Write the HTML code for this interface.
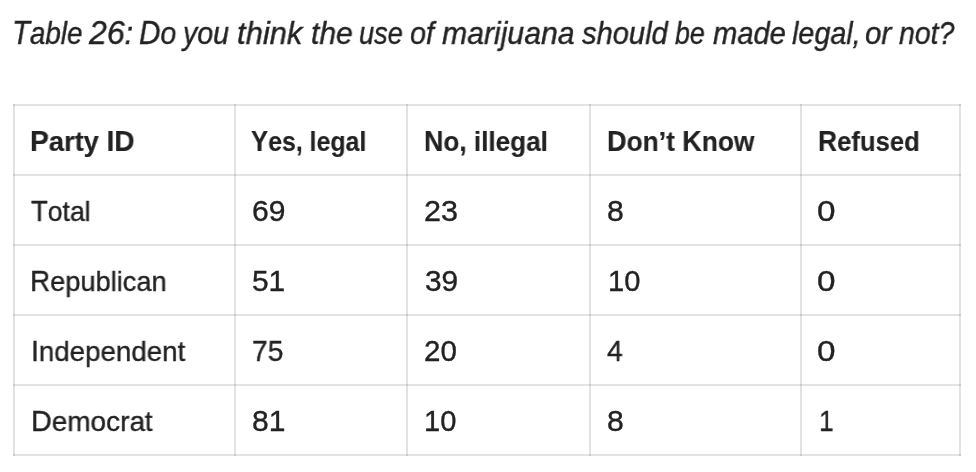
<!DOCTYPE html>
<html>
<head>
<meta charset="utf-8">
<style>
html,body{margin:0;padding:0;background:#fff;width:976px;height:472px;overflow:hidden;}
body{font-family:"Liberation Sans",sans-serif;color:#222;position:relative;}
.t{position:absolute;white-space:nowrap;line-height:1;transform-origin:0 0;will-change:transform;}
.title{font-style:italic;font-size:32px;-webkit-text-stroke:0.4px #222;}
.h{font-weight:bold;font-size:28.3px;-webkit-text-stroke:0.15px #222;}
.d{font-size:28.3px;-webkit-text-stroke:0.35px #222;}
.u{line-height:0;}
.title .u{font-size:33.6px;}
.h .u,.d .u{font-size:29.1px;}
.hl{position:absolute;height:2px;background:#e3e3e3;left:13px;width:948px;}
.vl{position:absolute;width:2px;background:#e3e3e3;top:104px;height:352px;}
.x{position:absolute;width:2px;height:2px;background:#cacaca;}
</style>
</head>
<body>
<div class="hl" style="top:104px"></div>
<div class="hl" style="top:174px"></div>
<div class="hl" style="top:244px"></div>
<div class="hl" style="top:314px"></div>
<div class="hl" style="top:384px"></div>
<div class="hl" style="top:454px"></div>
<div class="vl" style="left:13px"></div>
<div class="vl" style="left:234px"></div>
<div class="vl" style="left:406px"></div>
<div class="vl" style="left:589px"></div>
<div class="vl" style="left:800px"></div>
<div class="vl" style="left:959px"></div>
<div class="x" style="left:13px;top:104px"></div>
<div class="x" style="left:234px;top:104px"></div>
<div class="x" style="left:406px;top:104px"></div>
<div class="x" style="left:589px;top:104px"></div>
<div class="x" style="left:800px;top:104px"></div>
<div class="x" style="left:959px;top:104px"></div>
<div class="x" style="left:13px;top:174px"></div>
<div class="x" style="left:234px;top:174px"></div>
<div class="x" style="left:406px;top:174px"></div>
<div class="x" style="left:589px;top:174px"></div>
<div class="x" style="left:800px;top:174px"></div>
<div class="x" style="left:959px;top:174px"></div>
<div class="x" style="left:13px;top:244px"></div>
<div class="x" style="left:234px;top:244px"></div>
<div class="x" style="left:406px;top:244px"></div>
<div class="x" style="left:589px;top:244px"></div>
<div class="x" style="left:800px;top:244px"></div>
<div class="x" style="left:959px;top:244px"></div>
<div class="x" style="left:13px;top:314px"></div>
<div class="x" style="left:234px;top:314px"></div>
<div class="x" style="left:406px;top:314px"></div>
<div class="x" style="left:589px;top:314px"></div>
<div class="x" style="left:800px;top:314px"></div>
<div class="x" style="left:959px;top:314px"></div>
<div class="x" style="left:13px;top:384px"></div>
<div class="x" style="left:234px;top:384px"></div>
<div class="x" style="left:406px;top:384px"></div>
<div class="x" style="left:589px;top:384px"></div>
<div class="x" style="left:800px;top:384px"></div>
<div class="x" style="left:959px;top:384px"></div>
<div class="x" style="left:13px;top:454px"></div>
<div class="x" style="left:234px;top:454px"></div>
<div class="x" style="left:406px;top:454px"></div>
<div class="x" style="left:589px;top:454px"></div>
<div class="x" style="left:800px;top:454px"></div>
<div class="x" style="left:959px;top:454px"></div>
<div class="t title" style="left:11.69px;top:17px;transform:scaleX(0.8701)"><span class="u">T</span>able</div>
<div class="t title" style="left:88.70px;top:17px;transform:scaleX(0.9556)"><span class="u">26</span>:</div>
<div class="t title" style="left:138.81px;top:17px;transform:scaleX(0.8850)"><span class="u">D</span>o</div>
<div class="t title" style="left:183.31px;top:17px;transform:scaleX(0.8920)">you</div>
<div class="t title" style="left:237.03px;top:17px;transform:scaleX(0.9676)">think</div>
<div class="t title" style="left:311.06px;top:17px;transform:scaleX(0.9372)">the</div>
<div class="t title" style="left:359.35px;top:17px;transform:scaleX(0.8500)">use</div>
<div class="t title" style="left:409.60px;top:17px;transform:scaleX(0.9000)">of</div>
<div class="t title" style="left:442.40px;top:17px;transform:scaleX(0.9429)">marijuana</div>
<div class="t title" style="left:581.80px;top:17px;transform:scaleX(0.9095)">should</div>
<div class="t title" style="left:675.20px;top:17px;transform:scaleX(0.8371)">be</div>
<div class="t title" style="left:712.90px;top:17px;transform:scaleX(0.9101)">made</div>
<div class="t title" style="left:792.00px;top:17px;transform:scaleX(0.8973)">legal,</div>
<div class="t title" style="left:864.68px;top:17px;transform:scaleX(0.9207)">or</div>
<div class="t title" style="left:899.00px;top:17px;transform:scaleX(0.8889)">not?</div>
<div class="t h" style="left:30.47px;top:127px;transform:scaleX(0.9657)"><span class="u">P</span>arty <span class="u">ID</span></div>
<div class="t h" style="left:251.42px;top:127px;transform:scaleX(0.8797)"><span class="u">Y</span>es, legal</div>
<div class="t h" style="left:424.25px;top:127px;transform:scaleX(0.9231)"><span class="u">N</span>o, illegal</div>
<div class="t h" style="left:607.24px;top:127px;transform:scaleX(0.9314)"><span class="u">D</span>on’t <span class="u">K</span>now</div>
<div class="t h" style="left:818.29px;top:127px;transform:scaleX(0.9064)"><span class="u">R</span>efused</div>
<div class="t d" style="left:30.90px;top:197px;transform:scaleX(0.9403)"><span class="u">T</span>otal</div>
<div class="t d" style="left:251.77px;top:197px;transform:scaleX(1.0333)"><span class="u">69</span></div>
<div class="t d" style="left:423.85px;top:197px;transform:scaleX(1.0500)"><span class="u">23</span></div>
<div class="t d" style="left:606.56px;top:197px;transform:scaleX(1.0357)"><span class="u">8</span></div>
<div class="t d" style="left:817.36px;top:197px;transform:scaleX(1.1429)"><span class="u">0</span></div>
<div class="t d" style="left:30.38px;top:267px;transform:scaleX(0.9604)"><span class="u">R</span>epublican</div>
<div class="t d" style="left:251.97px;top:267px;transform:scaleX(1.0267)"><span class="u">51</span></div>
<div class="t d" style="left:424.57px;top:267px;transform:scaleX(1.0267)"><span class="u">39</span></div>
<div class="t d" style="left:607.50px;top:267px;transform:scaleX(1.0000)"><span class="u">10</span></div>
<div class="t d" style="left:817.36px;top:267px;transform:scaleX(1.1429)"><span class="u">0</span></div>
<div class="t d" style="left:30.84px;top:337px;transform:scaleX(0.9788)"><span class="u">I</span>ndependent</div>
<div class="t d" style="left:252.03px;top:337px;transform:scaleX(0.9677)"><span class="u">75</span></div>
<div class="t d" style="left:423.88px;top:337px;transform:scaleX(1.0161)"><span class="u">20</span></div>
<div class="t d" style="left:607.10px;top:337px;transform:scaleX(0.9688)"><span class="u">4</span></div>
<div class="t d" style="left:817.36px;top:337px;transform:scaleX(1.1429)"><span class="u">0</span></div>
<div class="t d" style="left:30.82px;top:407px;transform:scaleX(0.9876)"><span class="u">D</span>emocrat</div>
<div class="t d" style="left:251.77px;top:407px;transform:scaleX(1.0333)"><span class="u">81</span></div>
<div class="t d" style="left:424.40px;top:407px;transform:scaleX(1.0000)"><span class="u">10</span></div>
<div class="t d" style="left:606.56px;top:407px;transform:scaleX(1.0357)"><span class="u">8</span></div>
<div class="t d" style="left:819.18px;top:407px;transform:scaleX(0.9077)"><span class="u">1</span></div>
</body>
</html>
